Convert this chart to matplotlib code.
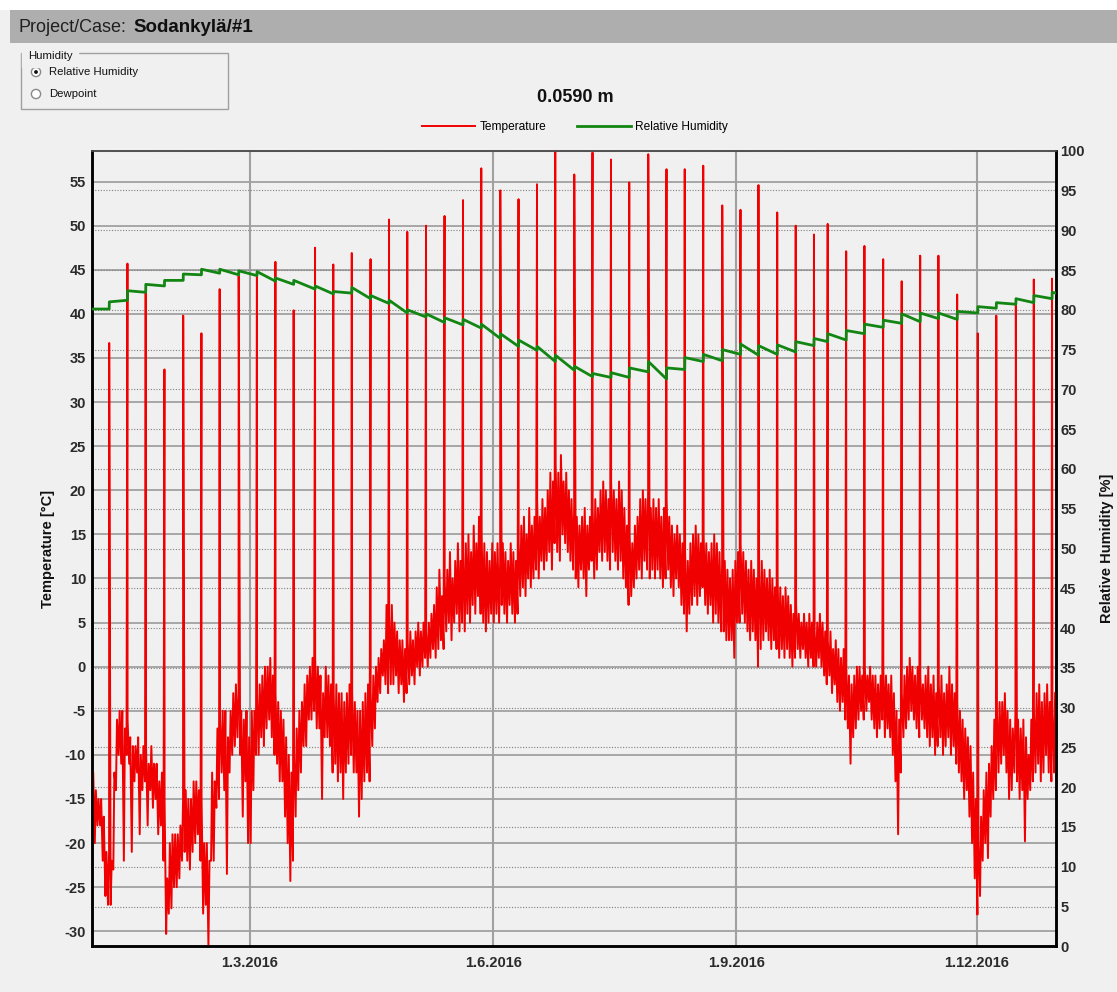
"""Sodankylä/#1 - temperatura y humedad relativa a 0.0590 m"""

import numpy as np
import pandas as pd
import matplotlib
matplotlib.use("Agg")
import matplotlib.pyplot as plt
import matplotlib.dates as mdates
from matplotlib.patches import Rectangle, Circle
from matplotlib.ticker import FuncFormatter

plt.rcParams['font.family'] = ['Liberation Sans', 'DejaVu Sans']

START = pd.Timestamp('2016-01-01')
END = pd.Timestamp('2016-12-31')

# mínimo y máximo diario de la temperatura (sin los picos) [°C]
tmin_jan = [-17, -20, -18, -18, -22, -26, -27, -27, -23, -14, -10, -11, -22, -10, -11, -21,
            -13, -12, -19, -14, -13, -18, -14, -16, -15, -19, -18, -22, -30.3, -28, -27.4]
tmax_jan = [-12, -14, -15, -15, -17, -21, -21, -22, -12, -6, -5, -5, -7, -6, -8, -9, -9, -8,
            -10, -9, -9, -11, -9, -11, -11, -13, -12, -15, -24, -20, -19]
tmin_feb = [-25, -25, -24, -22, -21, -22, -23, -21, -20, -19, -22, -28, -27, -31.7, -22,
            -22, -16, -15, -12, -14, -23.5, -12, -10, -9, -8, -10, -17, -13, -20]
tmax_feb = [-19, -19, -18, -15, -14, -15, -15, -13, -13, -14, -15, -20, -20, -22, -12, -13,
            -7, -6, -5, -5, -8, -5, -3, -2, -3, -5, -6, -5, -8]
tmin_mar = [-20, -14, -10, -10, -8, -9, -7, -6, -8, -10, -11, -13, -13, -17, -20, -24.3,
            -22, -17, -14, -12, -9, -9, -6, -6, -5, -7, -7, -15, -8, -8, -9]
tmax_mar = [-5, -5, -3, -2, -1, 0, 0, 1, -1, -3, -4, -5, -6, -8, -10, -12, -10, -7, -5, -4,
            -2, -1, 0, 1, 1, 0, -1, -3, 0, -1, -2]
tmin_apr = [-12, -11, -13, -12, -15, -12, -11, -10, -12, -12, -17, -15, -13, -12, -13, -9,
            -7, -4, -3, -1, -2, -3, -2, -2, -1, -3, -2, -4, -3, -2]
tmax_apr = [-3, -2, -3, -3, -4, -3, -2, -3, -4, -5, -5, -4, -3, -2, -3, -1, 0, 1, 2, 3, 7,
            6, 7, 5, 4, 3, 3, 2, 3, 4]
tmin_may = [-1, -2, 0, -1, 0, 1, 0, 1, 2, 1, 2, 3, 2, 4, 5, 3, 5, 6, 4, 5, 4, 6, 5, 7, 6, 8,
            6, 5, 4, 5, 6]
tmax_may = [3, 4, 5, 4, 5, 4, 5, 6, 7, 9, 11, 8, 10, 11, 13, 10, 12, 14, 12, 13, 14, 15, 13,
            16, 14, 17, 15, 14, 13, 12, 14]
tmin_jun = [5, 6, 5, 7, 6, 5, 7, 6, 5, 6, 8, 9, 8, 10, 9, 10, 11, 10, 12, 11, 12, 13, 11, 14,
            13, 12, 15, 14, 13, 12]
tmax_jun = [13, 14, 12, 14, 13, 12, 14, 13, 12, 14, 16, 17, 15, 18, 16, 17, 19, 17, 19, 18,
            20, 22, 21, 23, 22, 24, 21, 22, 20, 19]
tmin_jul = [11, 10, 9, 11, 10, 8, 11, 12, 10, 11, 13, 12, 13, 12, 11, 13, 12, 11, 12, 10, 9,
            7, 8, 9, 10, 11, 10, 12, 11, 10, 11]
tmax_jul = [18, 17, 16, 17, 18, 16, 17, 18, 19, 18, 20, 21, 20, 19, 21, 20, 19, 21, 20, 18,
            16, 15, 14, 16, 17, 19, 20, 19, 20, 18, 19]
tmin_aug = [10, 11, 10, 9, 10, 11, 9, 8, 10, 9, 7, 6, 4, 6, 7, 8, 7, 8, 9, 7, 6, 7, 5, 6, 5,
            4, 4, 3, 3, 3, 1]
tmax_aug = [18, 19, 17, 18, 19, 17, 16, 15, 16, 15, 14, 13, 12, 14, 15, 16, 15, 14, 15, 14,
            13, 14, 15, 14, 13, 12, 12, 11, 10, 11, 12]
tmin_sep = [5, 5, 6, 5, 4, 3, 4, 3, 0, 2, 3, 4, 3, 2, 3, 2, 1, 2, 1, 2, 1, 0, 1, 2, 1, 2, 1,
            0, 1, 0]
tmax_sep = [13, 14, 13, 12, 11, 12, 11, 10, 11, 12, 11, 10, 11, 10, 9, 10, 9, 8, 9, 8, 7, 6,
            7, 6, 5, 6, 5, 6, 5, 4]
tmin_oct = [0, 1, 0, -1, -2, -1, -3, -2, -4, -5, -4, -6, -7, -11, -8, -7, -6, -5, -6, -5,
            -4, -6, -7, -8, -7, -6, -8, -7, -8, -10, -13]
tmax_oct = [5, 6, 5, 4, 3, 4, 2, 3, 2, 1, 2, 0, -1, -2, -1, 0, 0, -1, 0, -1, 0, -1, -1, -2,
            -1, 0, -1, -2, -1, -3, -5]
tmin_nov = [-19, -12, -8, -7, -6, -5, -6, -7, -8, -6, -7, -8, -9, -8, -10, -9, -8, -10, -9,
            -8, -10, -9, -11, -12, -13, -15, -14, -17, -20, -24]
tmax_nov = [-6, -3, -1, 0, 1, 0, -1, 0, -1, -2, -1, 0, -2, -1, -3, -2, -1, -3, -2, 0, -2,
            -3, -4, -5, -6, -7, -8, -9, -12, -15]
tmin_dec = [-28.1, -26, -22, -20, -21.7, -17, -15, -14, -12, -11, -10, -12, -15, -14, -12,
            -13, -15, -14, -19.8, -15, -14, -13, -12, -11, -13, -12, -10, -12, -13, -12]
tmax_dec = [-20, -17, -14, -12, -11, -9, -6, -5, -4, -4, -3, -5, -6, -7, -5, -6, -7, -6, -8,
            -10, -6, -5, -3, -2, -4, -3, -2, -4, -5, -3]

# picos semanales: día del año y temperatura máxima [°C]
spike_day = [6.7, 13.6, 20.5, 27.6, 34.7, 41.6, 48.5, 55.7, 62.6, 69.6, 76.5, 84.6, 91.5,
             98.5, 105.6, 112.6, 119.5, 126.6, 133.6, 140.6, 147.5, 154.7, 161.6, 168.6,
             175.5, 182.7, 189.6, 196.6, 203.5, 210.7, 217.6, 224.5, 231.5, 238.7, 245.6,
             252.4, 259.5, 266.5, 273.4, 278.6, 285.6, 292.5, 299.6, 306.6, 313.6, 320.5,
             327.6, 335.4, 342.4, 349.8, 356.6, 363.5]
spike_peak = [36.7, 45.7, 42.4, 33.7, 39.8, 37.8, 42.8, 44.3, 44.4, 45.9, 40.4, 47.5, 45.6,
              46.9, 46.2, 50.7, 49.3, 50.0, 51.1, 52.9, 56.5, 54.0, 53.0, 54.7, 58.5, 55.8,
              58.3, 57.5, 54.9, 58.1, 56.4, 56.4, 56.8, 52.3, 51.8, 54.6, 51.5, 50.0, 49.0,
              50.2, 47.1, 47.7, 46.2, 43.7, 46.6, 46.6, 42.2, 37.8, 39.8, 41.0, 43.9, 44.0]

# humedad relativa justo antes / después de cada pico [%]
rh_start = 80.1
rh_end = 82.1
rh_before = [80.1, 81.2, 82.2, 83.0, 83.7, 84.4, 84.6, 84.4, 84.3, 83.6, 83.2, 82.6, 82.0,
             82.1, 81.4, 80.8, 79.6, 79.1, 78.4, 78.1, 77.7, 76.4, 75.4, 74.9, 73.5, 72.4,
             71.6, 71.5, 71.5, 72.2, 71.3, 72.5, 73.5, 73.6, 74.4, 74.3, 74.4, 74.7, 75.5,
             76.0, 76.2, 77.0, 77.8, 78.3, 78.5, 78.9, 78.8, 79.6, 80.2, 80.7, 80.9, 81.4]
rh_after = [81.0, 82.4, 83.2, 83.7, 84.5, 85.1, 85.1, 84.9, 84.8, 84.0, 83.7, 83.0, 82.3,
            82.8, 81.8, 81.2, 80.0, 79.5, 79.0, 78.8, 78.2, 77.0, 76.2, 75.4, 74.3, 72.9,
            72.0, 72.1, 72.7, 73.5, 72.7, 74.0, 74.4, 75.0, 75.7, 75.5, 75.6, 76.0, 76.4,
            77.0, 77.4, 78.2, 78.7, 79.5, 79.6, 79.6, 79.8, 80.4, 80.9, 81.4, 81.8, 82.2]

temp_left_ticks = list(range(-30, 56, 5))
rh_ticks = list(range(0, 101, 5))

BG = '#f0f0f0'
RED = '#f00000'
GREEN = '#128512'

# 1. Series
tmin = (tmin_jan + tmin_feb + tmin_mar + tmin_apr + tmin_may + tmin_jun + tmin_jul
        + tmin_aug + tmin_sep + tmin_oct + tmin_nov + tmin_dec)
tmax = (tmax_jan + tmax_feb + tmax_mar + tmax_apr + tmax_may + tmax_jun + tmax_jul
        + tmax_aug + tmax_sep + tmax_oct + tmax_nov + tmax_dec)
n = min(len(tmin), len(tmax))
day = np.arange(n, dtype=float)
t_day = np.concatenate([day + 0.25, day + 0.65, spike_day])
t_val = np.concatenate([tmin[:n], tmax[:n], spike_peak])
order = np.argsort(t_day, kind='stable')
t_time = START + pd.to_timedelta(t_day[order], unit='D')
t_val = t_val[order]

sd = np.array(spike_day)
rh_day = np.concatenate([[0.0], np.column_stack([sd, sd + 0.05]).ravel(), [365.0]])
rh_val = np.concatenate([[rh_start], np.column_stack([rh_before, rh_after]).ravel(), [rh_end]])
rh_time = START + pd.to_timedelta(rh_day, unit='D')

# 2. Figura y "ventana"
fig = plt.figure(figsize=(11.17, 9.92), dpi=100, facecolor=BG)
ui = fig.add_axes([0, 0, 1, 1], zorder=0)
ui.set_xlim(0, 1117)
ui.set_ylim(992, 0)
ui.axis('off')
ui.add_patch(Rectangle((0, 0), 1117, 10, facecolor='white', edgecolor='none'))
ui.add_patch(Rectangle((10, 10), 1107, 33, facecolor='#aeaeae', edgecolor='none'))
ui.text(18, 28, 'Project/Case:', fontsize=13, color='#202020', va='center')
ui.text(133, 28, 'Sodankylä/#1', fontsize=13.5, fontweight='bold', color='#101010', va='center')

ui.add_patch(Rectangle((20.5, 52.5), 207.5, 56.5, facecolor='none', edgecolor='#a0a0a0', lw=1))
ui.text(28, 56, 'Humidity', fontsize=8.2, va='center', color='#111', backgroundcolor=BG)
for yy, lab, sel in [(72, 'Relative Humidity', True), (94, 'Dewpoint', False)]:
    ui.add_patch(Circle((36, yy), 4.6, facecolor='white', edgecolor='#8a8a8a', lw=1))
    if sel:
        ui.add_patch(Circle((36, yy), 1.9, facecolor='#111', edgecolor='none'))
    ui.text(49, yy, lab, fontsize=8.2, va='center', color='#111')

ui.text(575, 97, '0.0590 m', fontsize=13, fontweight='bold', ha='center', va='center', color='#111')

# 3. Gráfico
l, r = 91.5 / 1117, 1056 / 1117
b, t = 1 - 946.3 / 992, 1 - 150.7 / 992
ax = fig.add_axes([l, b, r - l, t - b], zorder=1)
ax.set_facecolor(BG)
ax2 = ax.twinx()

ax.set_xlim(START, END)
ax.set_ylim(min(t_val), max(t_val))
ax2.set_ylim(0, 100)

# rejilla: continua en °C, punteada en %
for v in temp_left_ticks:
    ax.axhline(v, color='#9a9a9a', lw=1.2, zorder=1)
for v in rh_ticks:
    ax.hlines(v / 100, 0, 1, transform=ax.transAxes, color='#808080', lw=0.8,
              linestyles=(0, (1, 1.5)), zorder=1)
ax.xaxis.set_major_locator(mdates.MonthLocator(bymonth=[3, 6, 9, 12]))
ax.xaxis.set_major_formatter(FuncFormatter(
    lambda x, _: (lambda d: f"{d.day}.{d.month}.{d.year}")(mdates.num2date(x))))
ax.grid(axis='x', color='#a0a0a0', lw=1.5, zorder=1)

line_t, = ax.plot(t_time, t_val, color=RED, lw=1.4, zorder=3, label='Temperature')
line_rh, = ax2.plot(rh_time, rh_val, color=GREEN, lw=2.0, zorder=3, label='Relative Humidity')

ax.set_yticks(temp_left_ticks, [str(v) for v in temp_left_ticks], fontweight='bold')
ax2.set_yticks(rh_ticks, [str(v) for v in rh_ticks], fontweight='bold')
ax.tick_params(axis='y', length=0, pad=4, labelsize=10.5, labelcolor='#2a2a2a')
ax2.tick_params(axis='y', length=0, pad=3, labelsize=10.5, labelcolor='#2a2a2a')
ax.tick_params(axis='x', length=0, pad=7, labelsize=10.5, labelcolor='#2a2a2a')
for lab in ax.get_xticklabels():
    lab.set_fontweight('bold')

ax.set_ylabel('Temperature [°C]', fontsize=10.5, fontweight='bold', color='#111')
ax.yaxis.set_label_coords(-0.038, 0.5)
ax2.set_ylabel('Relative Humidity [%]', fontsize=10.5, fontweight='bold', color='#111',
               rotation=90)
ax2.yaxis.set_label_coords(1.046, 0.5)

for a in (ax, ax2):
    for side in ('left', 'right', 'bottom'):
        a.spines[side].set_color('black')
        a.spines[side].set_linewidth(1.8)
    a.spines['top'].set_color('#505050')
    a.spines['top'].set_linewidth(1.2)

fig.legend(handles=[line_t, line_rh], loc='center', ncol=2, frameon=False,
           bbox_to_anchor=(575 / 1117, 1 - 126.7 / 992), fontsize=8.6,
           handlelength=4.5, handletextpad=0.35, columnspacing=2.6)

plt.savefig('out.png', dpi=100, facecolor=BG)
